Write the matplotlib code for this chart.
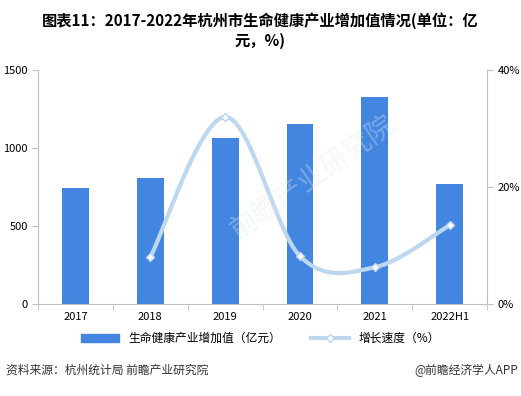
import numpy as np
import matplotlib.pyplot as plt
from matplotlib.lines import Line2D
from matplotlib.patches import Patch

plt.rcParams['font.family'] = ['Noto Sans CJK SC', 'DejaVu Sans']

years = ['2017', '2018', '2019', '2020', '2021', '2022H1']
added_value = [744, 808, 1064, 1154, 1327, 769]
growth_years = [1, 2, 3, 4, 5]
growth = [8.0, 32.0, 8.2, 6.3, 13.5]

BAR = '#4286e0'
LINE = '#bdd7ee'
GRAY = '#bfbfbf'


def catmull_rom(xs, ys, n=40):
    # smooth curve through the points, like the office "smoothed line"
    px = [xs[0]] + list(xs) + [xs[-1]]
    py = [ys[0]] + list(ys) + [ys[-1]]
    out_x, out_y = [], []
    t = np.linspace(0, 1, n)
    for i in range(1, len(px) - 2):
        for arr, src in ((out_x, px), (out_y, py)):
            p0, p1, p2, p3 = src[i - 1], src[i], src[i + 1], src[i + 2]
            arr.extend(0.5 * ((2 * p1) + (-p0 + p2) * t
                              + (2 * p0 - 5 * p1 + 4 * p2 - p3) * t ** 2
                              + (-p0 + 3 * p1 - 3 * p2 + p3) * t ** 3))
    return out_x, out_y


fig = plt.figure(figsize=(5.21, 3.96), dpi=100)
ax = fig.add_axes([0.073, 0.232, 0.862, 0.591])
x = np.arange(len(years))
ax.bar(x, added_value, width=0.36, color=BAR, zorder=2)
ax.set_xlim(-0.5, len(years) - 0.5)
ax.set_ylim(0, 1500)
ax.set_yticks([0, 500, 1000, 1500])
ax.set_xticks(x)
ax.set_xticklabels(years)
ax.set_xticks(np.arange(-0.5, len(years), 1), minor=True)
ax.tick_params(axis='x', which='major', length=0, labelsize=8, pad=6)
ax.tick_params(axis='x', which='minor', length=4, color=GRAY, direction='out')
ax.tick_params(axis='y', length=4, color=GRAY, labelsize=8)
for s in ('top', 'right'):
    ax.spines[s].set_visible(False)
for s in ('left', 'bottom'):
    ax.spines[s].set_color(GRAY)

ax2 = ax.twinx()
ax2.set_ylim(0, 40)
ax2.set_yticks([0, 20, 40])
ax2.set_yticklabels(['0%', '20%', '40%'])
ax2.tick_params(axis='y', length=4, color=GRAY, labelsize=8)
for s in ('top', 'left', 'bottom'):
    ax2.spines[s].set_visible(False)
ax2.spines['right'].set_color(GRAY)
sx, sy = catmull_rom(growth_years, growth)
ax2.plot(sx, sy, color=LINE, lw=3, solid_capstyle='round', zorder=3)
ax2.plot(growth_years, growth, ls='none', marker='D', ms=4, mfc='white',
         mec=LINE, mew=1, zorder=4)

# faint watermark
fig.text(0.6, 0.55, '前瞻产业研究院', fontsize=20, color='#e3e7ee', rotation=35,
         ha='center', va='center', alpha=0.35, zorder=0)

fig.text(0.5, 0.968, '图表11：2017-2022年杭州市生命健康产业增加值情况(单位：亿',
         ha='center', va='top', fontsize=11, fontweight='bold')
fig.text(0.5, 0.918, '元，%)', ha='center', va='top', fontsize=11,
         fontweight='bold')

handles = [Patch(color=BAR),
           Line2D([0], [0], color=LINE, lw=3, marker='D', ms=4, mfc='white',
                  mec=LINE)]
fig.legend(handles, ['生命健康产业增加值（亿元）', '增长速度（%）'],
           loc='center', bbox_to_anchor=(0.5, 0.145), ncol=2, frameon=False,
           fontsize=8.5, handlelength=3.2, columnspacing=2.5,
           handleheight=0.6)

fig.text(0.012, 0.065, '资料来源：杭州统计局 前瞻产业研究院', fontsize=8.5,
         color='#333333', va='center')
fig.text(0.995, 0.065, '@前瞻经济学人APP', fontsize=8.5, color='#333333',
         va='center', ha='right')

fig.savefig('out.png', dpi=100)
